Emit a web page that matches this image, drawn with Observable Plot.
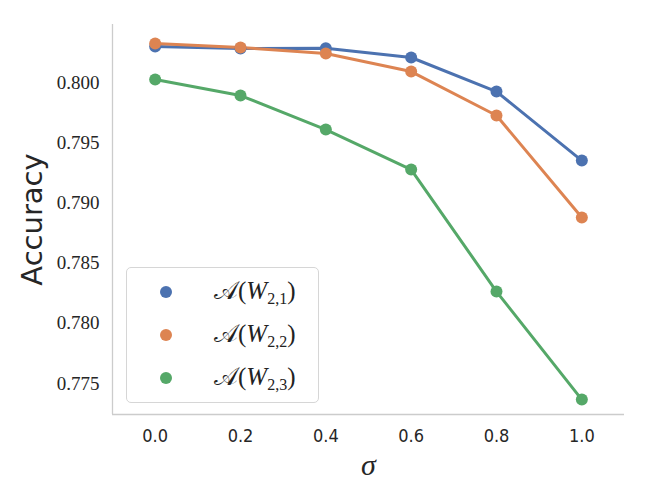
<!DOCTYPE html>
<html><head><meta charset="utf-8">
<script src="https://cdn.jsdelivr.net/npm/d3@7"></script>
<script src="https://cdn.jsdelivr.net/npm/@observablehq/plot@0.6"></script>
<style>
body{margin:0;background:#fff;}
#wrap{position:relative;width:649px;height:500px;}
#legend{position:absolute;left:126px;top:267px;width:193px;height:136px;border:1.3px solid #d6d6d6;border-radius:5px;background:#fff;box-sizing:border-box;font-family:"Liberation Serif","DejaVu Serif",serif;}
.item{position:absolute;left:0;height:30px;display:flex;align-items:center;}
.dot{position:absolute;left:33px;width:12px;height:12px;border-radius:50%;}
.lab{position:absolute;left:87px;font-size:25px;white-space:nowrap;color:#222;}
.lab i{font-style:italic;}
.lab sub{font-size:16px;font-style:normal;vertical-align:-5px;}
</style>
</head><body>
<div id="wrap"></div>
<script>
const sigma = [0.0, 0.2, 0.4, 0.6, 0.8, 1.0];
const seriesNames = ["A(W2,1)", "A(W2,2)", "A(W2,3)"];
const accW21 = [0.80299, 0.80283, 0.80285, 0.80208, 0.79925, 0.79352];
const accW22 = [0.80324, 0.80291, 0.80241, 0.80091, 0.79726, 0.78879];
const accW23 = [0.80025, 0.79892, 0.79609, 0.79277, 0.78264, 0.77367];
const colors = ["#4C72B0", "#DD8452", "#55A868"];
const xTicks = [0.0, 0.2, 0.4, 0.6, 0.8, 1.0];
const yTicks = [0.775, 0.780, 0.785, 0.790, 0.795, 0.800];
const xDomain = [-0.1, 1.1];
const yDomain = [0.77243, 0.80482];

const allSeries = [accW21, accW22, accW23];
const data = [];
allSeries.forEach((vals, i) => vals.forEach((v, j) => data.push({s: seriesNames[i], x: sigma[j], y: v})));

const plot = Plot.plot({
  width: 649, height: 500,
  marginLeft: 112, marginRight: 25, marginTop: 24, marginBottom: 86,
  style: {fontFamily: "Liberation Serif, serif", background: "white"},
  x: {domain: xDomain},
  y: {domain: yDomain},
  color: {domain: seriesNames, range: colors},
  marks: [
    Plot.ruleX([xDomain[0]], {stroke: "#cccccc", strokeWidth: 1.3}),
    Plot.ruleY([yDomain[0]], {stroke: "#cccccc", strokeWidth: 1.3}),
    Plot.axisX({ticks: xTicks, tickSize: 0, tickPadding: 15, tickFormat: d3.format(".1f"),
      fontSize: 18, fontFamily: "DejaVu Sans Condensed", fill: "#262626", label: null}),
    Plot.axisY({ticks: yTicks, tickSize: 0, tickPadding: 13, tickFormat: d3.format(".3f"),
      fontSize: 19, fill: "#262626", label: null}),
    Plot.line(data, {x: "x", y: "y", stroke: "s", strokeWidth: 3}),
    Plot.dot(data, {x: "x", y: "y", fill: "s", r: 6}),
    Plot.text(["Accuracy"], {frameAnchor: "left", textAnchor: "middle", dx: -80, rotate: -90, fontSize: 29,
      fontFamily: "DejaVu Sans", fill: "#262626"}),
    Plot.text(["σ"], {frameAnchor: "bottom", dy: 60, fontSize: 30, fontStyle: "italic",
      fill: "#262626"})
  ]
});
const wrap = document.getElementById("wrap");
wrap.appendChild(plot);

const legend = document.createElement("div");
legend.id = "legend";
const subs = ["2,1", "2,2", "2,3"];
seriesNames.forEach((n, i) => {
  const item = document.createElement("div");
  item.className = "item";
  item.style.top = (9 + i * 43) + "px";
  item.innerHTML = `<span class="dot" style="background:${colors[i]}"></span><span class="lab">𝒜(<i>W</i><sub>${subs[i]}</sub>)</span>`;
  legend.appendChild(item);
});
wrap.appendChild(legend);
</script>
</body></html>
